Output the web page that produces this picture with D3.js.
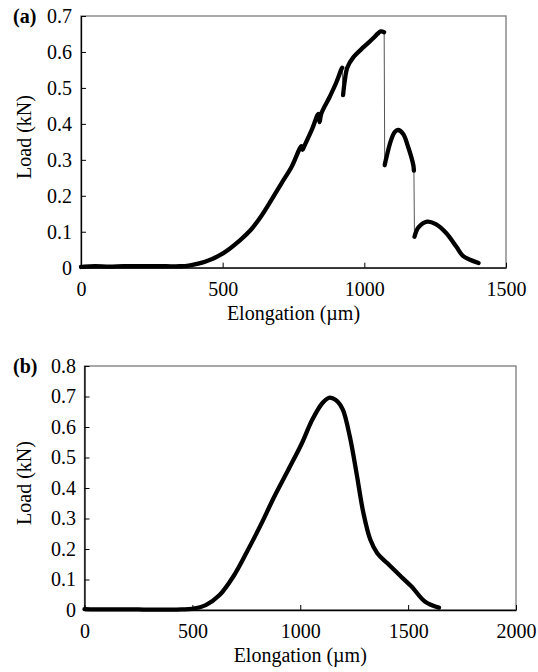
<!DOCTYPE html>
<html>
<head>
<meta charset="utf-8">
<script src="https://cdn.jsdelivr.net/npm/d3@7"></script>
<style>
  body { margin: 0; background: #fff; }
  svg text { font-family: "Liberation Serif", Tinos, "Times New Roman", "DejaVu Serif", serif; fill: #000; }
</style>
</head>
<body>
<div id="chart"></div>
<script>
// Panel (a): elongation (um) vs load (kN), drops marked by breakA indices
const elongA = [0, 11, 50, 100, 150, 200, 250, 300, 350, 380, 440, 501, 562, 598, 634, 671, 707, 743, 778, 782, 788, 816, 838, 842, 848, 877, 901, 919, 922,
  925, 931, 940, 961, 998, 1034, 1046, 1058, 1070,
  1072, 1076, 1094, 1107, 1119, 1137, 1155, 1173, 1175,
  1177, 1191, 1222, 1252, 1288, 1325, 1349, 1373, 1403];
const loadA = [0.002, 0.003, 0.004, 0.003, 0.004, 0.004, 0.004, 0.004, 0.004, 0.006, 0.017, 0.040, 0.077, 0.104, 0.141, 0.187, 0.234, 0.280, 0.338, 0.328, 0.338, 0.386, 0.428, 0.405, 0.428, 0.474, 0.515, 0.552, 0.556,
  0.480, 0.520, 0.557, 0.585, 0.614, 0.640, 0.650, 0.657, 0.655,
  0.285, 0.300, 0.354, 0.377, 0.383, 0.372, 0.335, 0.285, 0.270,
  0.086, 0.112, 0.128, 0.121, 0.097, 0.058, 0.032, 0.022, 0.013];
const breakA = [29, 38, 47];   // first index of each piece after a sudden drop

// Panel (b)
const elongB = [0, 50, 100, 150, 200, 250, 300, 350, 400, 450, 499, 562, 626, 689, 753, 817, 880, 944, 1007, 1055, 1102, 1134, 1150, 1174, 1198, 1230, 1261, 1293, 1325, 1357, 1404, 1468, 1516, 1579, 1643];
const loadB = [0.003, 0.002, 0.002, 0.002, 0.002, 0.002, 0.001, 0.001, 0.001, 0.002, 0.004, 0.016, 0.049, 0.109, 0.191, 0.279, 0.372, 0.459, 0.546, 0.623, 0.678, 0.696, 0.694, 0.683, 0.656, 0.568, 0.448, 0.317, 0.230, 0.186, 0.153, 0.109, 0.077, 0.027, 0.008];
const breakB = [];

const xTicksA = [0, 500, 1000, 1500];
const yTicksA = [0, 0.1, 0.2, 0.3, 0.4, 0.5, 0.6, 0.7];
const xTicksB = [0, 500, 1000, 1500, 2000];
const yTicksB = [0, 0.1, 0.2, 0.3, 0.4, 0.5, 0.6, 0.7, 0.8];

const width = 538, height = 672;
const fontStack = '"Liberation Serif", Tinos, "Times New Roman", "DejaVu Serif", serif';
const fs = 20;
const svg = d3.select("#chart").append("svg")
  .attr("width", width).attr("height", height);

function drawPanel(p) {
  const x = d3.scaleLinear().domain(p.xDomain).range([p.left, p.right]);
  const y = d3.scaleLinear().domain(p.yDomain).range([p.bottom, p.top]);
  const g = svg.append("g");

  // frame (top/right are grey)
  g.append("rect")
    .attr("x", p.left).attr("y", p.top)
    .attr("width", p.right - p.left).attr("height", p.bottom - p.top)
    .attr("fill", "none").attr("stroke", "#7a7a7a").attr("stroke-width", 1.3);

  const pts = p.xs.map((v, i) => [v, p.ys[i]]);
  const line = d3.line().x(d => x(d[0])).y(d => y(d[1])).curve(d3.curveCatmullRom);

  // thin connector through all points
  g.append("path").datum(pts)
    .attr("d", d3.line().x(d => x(d[0])).y(d => y(d[1])))
    .attr("fill", "none").attr("stroke", "#555").attr("stroke-width", 1);

  // thick pieces
  const cuts = [0, ...p.breaks, pts.length];
  for (let k = 0; k < cuts.length - 1; k++) {
    g.append("path").datum(pts.slice(cuts[k], cuts[k + 1]))
      .attr("d", line)
      .attr("fill", "none").attr("stroke", "#000")
      .attr("stroke-width", 4.3).attr("stroke-linecap", "round").attr("stroke-linejoin", "round");
  }

  const ax = g.append("g").attr("transform", `translate(0,${p.bottom})`)
    .call(d3.axisBottom(x).tickValues(p.xTicks).tickSizeInner(-5).tickSizeOuter(0).tickPadding(13.8).tickFormat(d3.format("d")));
  const ay = g.append("g").attr("transform", `translate(${p.left},0)`)
    .call(d3.axisLeft(y).tickValues(p.yTicks).tickSizeInner(-5).tickSizeOuter(0).tickPadding(p.yPad).tickFormat(d => d === 0 ? "0" : d3.format(".1f")(d)));
  [ax, ay].forEach(a => {
    a.attr("font-family", fontStack).attr("font-size", fs);
    a.select(".domain").attr("stroke", "#000").attr("stroke-width", 1.3);
    a.selectAll(".tick line").attr("stroke", "#000");
    a.selectAll("text").attr("font-size", fs).style("font-family", fontStack);
  });

  g.append("text")
    .attr("x", (p.left + p.right) / 2).attr("y", p.bottom + 52)
    .attr("text-anchor", "middle").attr("font-size", fs)
    .style("font-family", fontStack)
    .text("Elongation (\u00b5m)");
  g.append("text")
    .attr("transform", `translate(31,${p.yTitleY}) rotate(-90)`)
    .attr("text-anchor", "middle").attr("font-size", fs)
    .style("font-family", fontStack)
    .text("Load (kN)");
  g.append("text")
    .attr("x", 13).attr("y", p.top + 7)
    .attr("font-size", fs).attr("font-weight", "bold")
    .style("font-family", fontStack)
    .text(p.tag);
}

drawPanel({
  tag: "(a)", xs: elongA, ys: loadA, breaks: breakA,
  xDomain: [0, 1500], yDomain: [0, 0.7], xTicks: xTicksA, yTicks: yTicksA,
  left: 81, right: 506, top: 16, bottom: 267.7, yPad: 9, yTitleY: 137
});
drawPanel({
  tag: "(b)", xs: elongB, ys: loadB, breaks: breakB,
  xDomain: [0, 2000], yDomain: [0, 0.8], xTicks: xTicksB, yTicks: yTicksB,
  left: 84.5, right: 516, top: 366, bottom: 610, yPad: 8.5, yTitleY: 483
});
</script>
</body>
</html>
